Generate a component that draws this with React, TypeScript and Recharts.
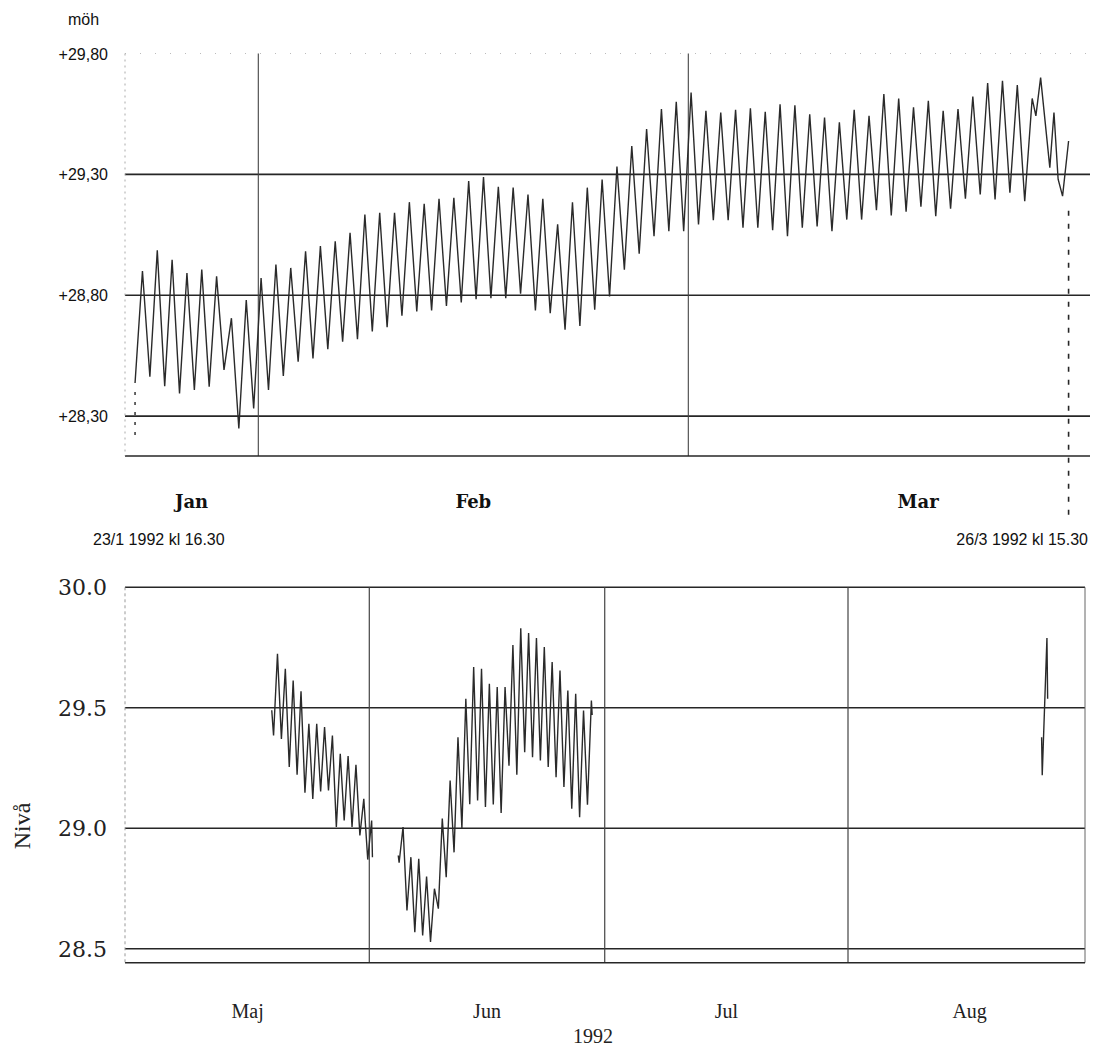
import { LineChart, Line, XAxis, YAxis, ReferenceLine } from 'recharts';

// Tid = dagnummer 1992, räknat från 1 jan kl 00.00 (= 0)

// Övre diagrammet: 23/1 kl 16.30 – 26/3 kl 15.30, lågvatten/högvatten växelvis var 12:e timme
const topStart = 22.6875;
const topLevels = [
  28.437, 28.9, 28.463, 28.986, 28.424, 28.947, 28.394, 28.892, 28.408, 28.906,
  28.422, 28.878, 28.491, 28.705, 28.249, 28.78, 28.332, 28.871, 28.408, 28.927,
  28.466, 28.913, 28.525, 28.982, 28.539, 29.003, 28.577, 29.023, 28.608, 29.058,
  28.618, 29.134, 28.65, 29.141, 28.668, 29.141, 28.715, 29.185, 28.733, 29.178,
  28.737, 29.199, 28.756, 29.203, 28.77, 29.272, 28.784, 29.289, 28.788, 29.249,
  28.788, 29.245, 28.806, 29.217, 28.737, 29.199, 28.726, 29.093, 28.657, 29.185,
  28.673, 29.245, 28.74, 29.279, 28.795, 29.332, 28.906, 29.417, 28.972, 29.487,
  29.044, 29.57, 29.065, 29.6, 29.065, 29.639, 29.093, 29.563, 29.11, 29.556,
  29.11, 29.567, 29.079, 29.573, 29.079, 29.559, 29.069, 29.59, 29.044, 29.586,
  29.079, 29.549, 29.085, 29.535, 29.065, 29.515, 29.113, 29.567, 29.113, 29.542,
  29.152, 29.632, 29.13, 29.614, 29.146, 29.577, 29.166, 29.604, 29.127, 29.563,
  29.158, 29.57, 29.199, 29.622, 29.217, 29.678, 29.196, 29.687, 29.224, 29.669,
  29.189,
];
const topTailDays = [83.19, 83.44, 83.76, 84.38, 84.66, 84.94, 85.24, 85.646];
const topTailLevels = [29.614, 29.542, 29.7, 29.328, 29.556, 29.28, 29.21, 29.438];
const topEnd = 85.646; // 26/3 kl 15.30

const topMonthMid = [26.5, 45.5, 75.5];
const topMonthNames = ['Jan', 'Feb', 'Mar'];
const topMonthStarts = [31, 60];
const topTicks = [28.3, 28.8, 29.3, 29.8];

// Nedre diagrammet: maj – aug 1992
const majHeadDays = [139.57];
const majHeadLevels = [29.49];
const majStart = 139.8;
const majLevels = [
  29.385, 29.724, 29.371, 29.662, 29.254, 29.613, 29.222, 29.568, 29.147, 29.434,
  29.122, 29.434, 29.153, 29.42, 29.157, 29.385, 29.005, 29.309, 29.032, 29.3,
  29.005, 29.263, 28.97, 29.122, 28.87, 29.032,
];
const majTailDays = [152.4];
const majTailLevels = [28.88];

const junHeadDays = [155.69, 155.8];
const junHeadLevels = [28.887, 28.857];
const junStart = 156.3;
const junLevels = [
  29.005, 28.659, 28.88, 28.569, 28.873, 28.555, 28.8, 28.528, 28.749, 28.666,
  29.04, 28.797, 29.198, 28.9, 29.378, 29.0, 29.537, 29.1, 29.669, 29.115,
  29.662, 29.088, 29.6, 29.099, 29.586, 29.063, 29.586, 29.26, 29.76, 29.222,
  29.83, 29.316, 29.81, 29.295, 29.79, 29.281, 29.752, 29.254, 29.69, 29.212,
  29.655, 29.171, 29.572, 29.081, 29.558, 29.046, 29.489, 29.098, 29.53,
];
const junTailDays = [180.4];
const junTailLevels = [29.47];

const augDays = [237.67, 237.75, 238.35, 238.44];
const augLevels = [29.378, 29.22, 29.79, 29.537];

const bottomMonthMid = [136.5, 167, 197.5, 228.5];
const bottomMonthNames = ['Maj', 'Jun', 'Jul', 'Aug'];
const bottomMonthStarts = [152, 182, 213];
const bottomTicks = [28.5, 29.0, 29.5, 30.0];

const pairs = (days: number[], levels: number[]) => days.map((t, i) => ({ t, v: levels[i] }));
const zigzag = (start: number, levels: number[]) => levels.map((v, i) => ({ t: start + i * 0.5, v }));

const topData = [...zigzag(topStart, topLevels), ...pairs(topTailDays, topTailLevels)];

const bottomData = [
  ...pairs(majHeadDays, majHeadLevels),
  ...zigzag(majStart, majLevels),
  ...pairs(majTailDays, majTailLevels),
  { t: 154, v: null },
  ...pairs(junHeadDays, junHeadLevels),
  ...zigzag(junStart, junLevels),
  ...pairs(junTailDays, junTailLevels),
  { t: 210, v: null },
  ...pairs(augDays, augLevels),
];

const INK = '#262626';
const SANS = '"Liberation Sans", Arial, sans-serif';
const SERIF = '"Liberation Serif", "Times New Roman", serif';
const SLAB = '"DejaVu Serif", serif';

const TopYTick = ({ y, payload }: any) => (
  <text x={108} y={y + 6} textAnchor="end" fontFamily={SANS} fontSize={16} fill="#111">
    {'+' + payload.value.toFixed(2).replace('.', ',')}
  </text>
);

const TopXTick = ({ x, payload }: any) => (
  <text x={x} y={508} textAnchor="middle" fontFamily={SLAB} fontWeight="bold" fontSize={18} fill="#111">
    {topMonthNames[topMonthMid.indexOf(payload.value)]}
  </text>
);

const BottomYTick = ({ y, payload }: any) => (
  <text x={107} y={y + 8} textAnchor="end" fontFamily={SLAB} fontSize={22} fill="#222">
    {payload.value.toFixed(1)}
  </text>
);

const BottomXTick = ({ x, payload }: any) => (
  <text x={x} y={458} textAnchor="middle" fontFamily={SERIF} fontSize={20} fill="#222">
    {bottomMonthNames[bottomMonthMid.indexOf(payload.value)]}
  </text>
);

export default function App() {
  return (
    <div style={{ position: 'absolute', left: 0, top: 0, width: 1097, height: 1048, background: '#fff' }}>
      <div style={{ position: 'absolute', left: 0, top: 0 }}>
        <LineChart width={1097} height={560} data={topData} margin={{ top: 53.5, right: 7, bottom: 0, left: 0 }}>
          <XAxis
            dataKey="t"
            type="number"
            domain={[22.01, 87.09]}
            allowDataOverflow
            ticks={topMonthMid}
            interval={0}
            height={104}
            tickLine={false}
            axisLine={{ stroke: INK, strokeWidth: 1.6 }}
            tick={<TopXTick />}
          />
          <YAxis
            type="number"
            domain={[28.135, 29.8]}
            allowDataOverflow
            ticks={topTicks}
            interval={0}
            width={125}
            tickLine={false}
            axisLine={{ stroke: '#aaa', strokeDasharray: '2 4' }}
            tick={<TopYTick />}
          />
          <ReferenceLine y={29.8} stroke="#bbb" strokeDasharray="1 14" />
          {[28.3, 28.8, 29.3].map((y) => (
            <ReferenceLine key={y} y={y} stroke={INK} strokeWidth={1.6} />
          ))}
          {topMonthStarts.map((x) => (
            <ReferenceLine key={x} x={x} stroke="#444" strokeWidth={1.1} />
          ))}
          <ReferenceLine
            segment={[{ x: topStart, y: 28.4 }, { x: topStart, y: 28.215 }]}
            stroke={INK}
            strokeWidth={1.4}
            strokeDasharray="3 7"
            ifOverflow="visible"
          />
          <ReferenceLine
            segment={[{ x: topEnd, y: 29.15 }, { x: topEnd, y: 27.87 }]}
            stroke={INK}
            strokeWidth={1.6}
            strokeDasharray="5 8"
            ifOverflow="visible"
          />
          <Line
            dataKey="v"
            type="linear"
            stroke="#2a2a2a"
            strokeWidth={1.4}
            dot={false}
            isAnimationActive={false}
          />
        </LineChart>
      </div>

      <div style={{ position: 'absolute', left: 0, top: 560 }}>
        <LineChart width={1097} height={488} data={bottomData} margin={{ top: 27.3, right: 12, bottom: 0, left: 0 }}>
          <XAxis
            dataKey="t"
            type="number"
            domain={[120.87, 243.2]}
            allowDataOverflow
            ticks={bottomMonthMid}
            interval={0}
            height={85.3}
            tickLine={false}
            axisLine={{ stroke: INK, strokeWidth: 1.6 }}
            tick={<BottomXTick />}
          />
          <YAxis
            type="number"
            domain={[28.442, 30.0]}
            allowDataOverflow
            ticks={bottomTicks}
            interval={0}
            width={125}
            tickLine={false}
            axisLine={{ stroke: '#999', strokeDasharray: '3 3' }}
            tick={<BottomYTick />}
          />
          {bottomTicks.map((y) => (
            <ReferenceLine key={y} y={y} stroke={INK} strokeWidth={1.6} />
          ))}
          {bottomMonthStarts.map((x) => (
            <ReferenceLine key={x} x={x} stroke="#444" strokeWidth={1.2} />
          ))}
          <ReferenceLine x={243.2} stroke="#666" strokeWidth={1} />
          <Line
            dataKey="v"
            type="linear"
            stroke="#2a2a2a"
            strokeWidth={1.4}
            dot={false}
            connectNulls={false}
            isAnimationActive={false}
          />
        </LineChart>
      </div>

      <svg width={1097} height={1048} style={{ position: 'absolute', left: 0, top: 0, pointerEvents: 'none' }}>
        <text x={68} y={25} fontFamily={SANS} fontSize={16} fill="#111">möh</text>
        <text x={93} y={545} fontFamily={SANS} fontSize={16} fill="#111">23/1 1992 kl 16.30</text>
        <text x={1088} y={545} textAnchor="end" fontFamily={SANS} fontSize={16} fill="#111">26/3 1992 kl 15.30</text>
        <text
          x={30}
          y={826}
          transform="rotate(-90 30 826)"
          textAnchor="middle"
          fontFamily={SERIF}
          fontSize={24}
          fill="#222"
        >
          Nivå
        </text>
        <text x={593} y={1043} textAnchor="middle" fontFamily={SERIF} fontSize={20} fill="#222">1992</text>
      </svg>
    </div>
  );
}
